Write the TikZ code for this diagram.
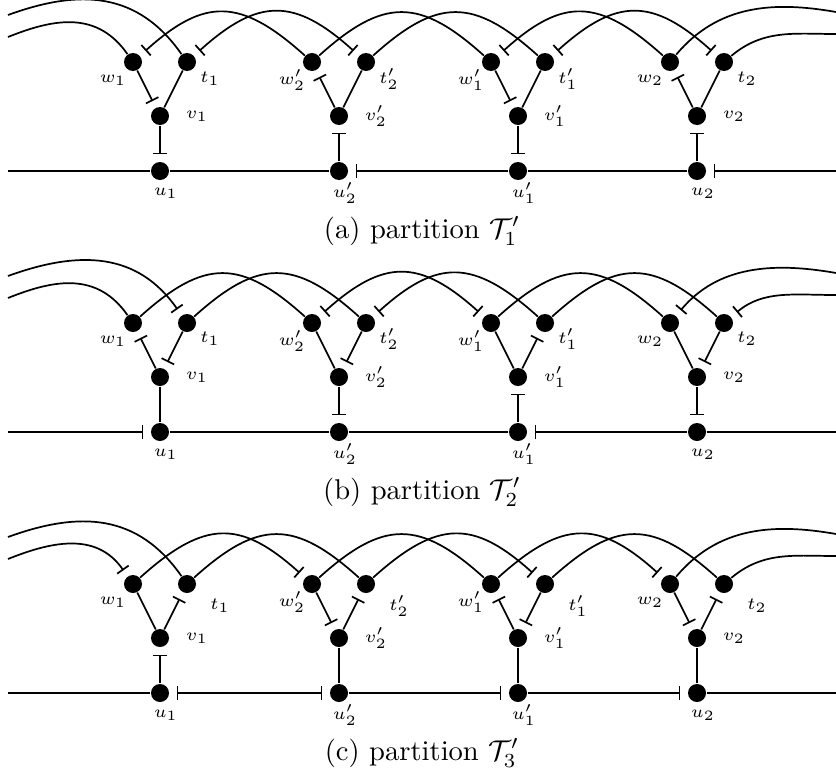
\documentclass[tikz,border=0pt]{standalone}
\usetikzlibrary{arrows.meta,calc}
\newcommand\tdx{23}
\newcommand\tdy{17}
\newcommand\mkgroup[8]{%
  \node[dot] (#1-w#2) at (#3-27,-#4) {};
  \node[dot] (#1-t#2) at (#3+27,-#4) {};
  \node[dot] (#1-v#2) at (#3,-#4-54) {};
  \node[dot] (#1-u#2) at (#3,-#4-109) {};
  \node[lab] (#1-wl#2) at ($(#1-w#2)+(-20,-18)$) {$#5$};
  \node[lab] (#1-tl#2) at ($(#1-t#2)+(\tdx,-\tdy)$) {$#6$};
  \node[lab] (#1-vl#2) at ($(#1-v#2)+(37,0)$) {$#7$};
  \node[lab] (#1-ul#2) at ($(#1-u#2)+(6,-22)$) {$#8$};
}
\newcommand\mkpanel[2]{%
  \mkgroup{#1}{1}{160}{#2}{w_1}{t_1}{v_1}{u_1}
  \mkgroup{#1}{2p}{339}{#2}{w_2'}{t_2'}{v_2'}{u_2'}
  \mkgroup{#1}{1p}{518}{#2}{w_1'}{t_1'}{v_1'}{u_1'}
  \mkgroup{#1}{2}{697}{#2}{w_2}{t_2}{v_2}{u_2}
  \coordinate (#1-L) at (8,-#2-109);
  \coordinate (#1-R) at (836,-#2-109);
  \coordinate (#1-Lw) at (8,-#2+25);
  \coordinate (#1-Lt) at (8,-#2+47);
  \coordinate (#1-Rw) at (836,-#2+50);
  \coordinate (#1-Rt) at (836,-#2+28);
}
\begin{document}
\begin{tikzpicture}[x=0.35pt,y=0.35pt,
  dot/.style={circle,fill=black,inner sep=0pt,minimum size=6.3pt},
  lab/.style={font=\fontsize{6}{7}\selectfont,inner sep=0pt},
  conn/.style={line width=0.6pt},
  barend/.style={-{Bar[width=4.9pt]},shorten >=2.5pt},
  barstart/.style={{Bar[width=4.9pt]}-,shorten <=2.5pt},
  barboth/.style={{Bar[width=4.9pt]}-{Bar[width=4.9pt]},shorten <=2.5pt,shorten >=2.5pt},
  hop/.style={out=42,in=138,looseness=1.35},
  wrapw/.style={out=22,in=125,looseness=1.1},
  wrapt/.style={out=20,in=125,looseness=1.1},
  rightw/.style={out=50,in=170},
  rightt/.style={out=40,in=180},
  captext/.style={font=\normalsize,inner sep=0pt,anchor=base}]
\useasboundingbox (0,0) rectangle (836,-776);

% ---------------- panel (a)
\renewcommand\tdx{23}\renewcommand\tdy{17}
\mkpanel{a}{62}
\node[captext] (a-cap) at (422,-238) {(a) partition $\mathcal{T}_1'$};
\draw[conn] (a-L) -- (a-u1);
\draw[conn] (a-u1) -- (a-u2p);
\draw[conn,barstart] (a-u2p) -- (a-u1p);
\draw[conn] (a-u1p) -- (a-u2);
\draw[conn,barstart] (a-u2) -- (a-R);
\draw[conn,barend] (a-w1) -- (a-v1);
\draw[conn] (a-t1) -- (a-v1);
\draw[conn,barend] (a-v1) -- (a-u1);
\draw[conn,barstart] (a-w2p) -- (a-v2p);
\draw[conn] (a-t2p) -- (a-v2p);
\draw[conn,barstart] (a-v2p) -- (a-u2p);
\draw[conn,barend] (a-w1p) -- (a-v1p);
\draw[conn] (a-t1p) -- (a-v1p);
\draw[conn,barend] (a-v1p) -- (a-u1p);
\draw[conn,barstart] (a-w2) -- (a-v2);
\draw[conn] (a-t2) -- (a-v2);
\draw[conn,barstart] (a-v2) -- (a-u2);
\draw[conn] (a-Lw) to[wrapw] (a-w1);
\draw[conn] (a-Lt) to[wrapt] (a-t1);
\draw[conn,barstart] (a-w1) to[hop] (a-w2p);
\draw[conn,barboth] (a-t1) to[hop] (a-t2p);
\draw[conn] (a-w2p) to[hop] (a-w1p);
\draw[conn] (a-t2p) to[hop] (a-t1p);
\draw[conn,barstart] (a-w1p) to[hop] (a-w2);
\draw[conn,barboth] (a-t1p) to[hop] (a-t2);
\draw[conn] (a-w2) to[rightw] (a-Rw);
\draw[conn] (a-t2) to[rightt] (a-Rt);

% ---------------- panel (b)
\renewcommand\tdx{23}\renewcommand\tdy{16}
\mkpanel{b}{323}
\node[captext] (b-cap) at (422,-499) {(b) partition $\mathcal{T}_2'$};
\draw[conn,barend] (b-L) -- (b-u1);
\draw[conn] (b-u1) -- (b-u2p);
\draw[conn] (b-u2p) -- (b-u1p);
\draw[conn,barstart] (b-u1p) -- (b-u2);
\draw[conn] (b-u2) -- (b-R);
\draw[conn,barstart] (b-w1) -- (b-v1);
\draw[conn,barend] (b-t1) -- (b-v1);
\draw[conn] (b-v1) -- (b-u1);
\draw[conn] (b-w2p) -- (b-v2p);
\draw[conn,barend] (b-t2p) -- (b-v2p);
\draw[conn,barend] (b-v2p) -- (b-u2p);
\draw[conn] (b-w1p) -- (b-v1p);
\draw[conn,barstart] (b-t1p) -- (b-v1p);
\draw[conn,barstart] (b-v1p) -- (b-u1p);
\draw[conn] (b-w2) -- (b-v2);
\draw[conn,barend] (b-t2) -- (b-v2);
\draw[conn,barend] (b-v2) -- (b-u2);
\draw[conn] (b-Lw) to[wrapw] (b-w1);
\draw[conn,barend] (b-Lt) to[wrapt] (b-t1);
\draw[conn] (b-w1) to[hop] (b-w2p);
\draw[conn] (b-t1) to[hop] (b-t2p);
\draw[conn,barboth] (b-w2p) to[hop] (b-w1p);
\draw[conn,barstart] (b-t2p) to[hop] (b-t1p);
\draw[conn] (b-w1p) to[hop] (b-w2);
\draw[conn] (b-t1p) to[hop] (b-t2);
\draw[conn,barstart] (b-w2) to[rightw] (b-Rw);
\draw[conn,barstart] (b-t2) to[rightt] (b-Rt);

% ---------------- panel (c)
\renewcommand\tdx{33}\renewcommand\tdy{22}
\mkpanel{c}{584}
\node[captext] (c-cap) at (422,-760) {(c) partition $\mathcal{T}_3'$};
\draw[conn] (c-L) -- (c-u1);
\draw[conn,barboth] (c-u1) -- (c-u2p);
\draw[conn,barend] (c-u2p) -- (c-u1p);
\draw[conn,barend] (c-u1p) -- (c-u2);
\draw[conn] (c-u2) -- (c-R);
\draw[conn] (c-w1) -- (c-v1);
\draw[conn,barstart] (c-t1) -- (c-v1);
\draw[conn,barstart] (c-v1) -- (c-u1);
\draw[conn,barend] (c-w2p) -- (c-v2p);
\draw[conn,barstart] (c-t2p) -- (c-v2p);
\draw[conn] (c-v2p) -- (c-u2p);
\draw[conn,barstart] (c-w1p) -- (c-v1p);
\draw[conn,barend] (c-t1p) -- (c-v1p);
\draw[conn] (c-v1p) -- (c-u1p);
\draw[conn,barend] (c-w2) -- (c-v2);
\draw[conn,barstart] (c-t2) -- (c-v2);
\draw[conn] (c-v2) -- (c-u2);
\draw[conn,barend] (c-Lw) to[wrapw] (c-w1);
\draw[conn] (c-Lt) to[wrapt] (c-t1);
\draw[conn,barend] (c-w1) to[hop] (c-w2p);
\draw[conn] (c-t1) to[hop] (c-t2p);
\draw[conn] (c-w2p) to[hop] (c-w1p);
\draw[conn,barend] (c-t2p) to[hop] (c-t1p);
\draw[conn,barend] (c-w1p) to[hop] (c-w2);
\draw[conn] (c-t1p) to[hop] (c-t2);
\draw[conn] (c-w2) to[rightw] (c-Rw);
\draw[conn] (c-t2) to[rightt] (c-Rt);
\end{tikzpicture}
\end{document}
